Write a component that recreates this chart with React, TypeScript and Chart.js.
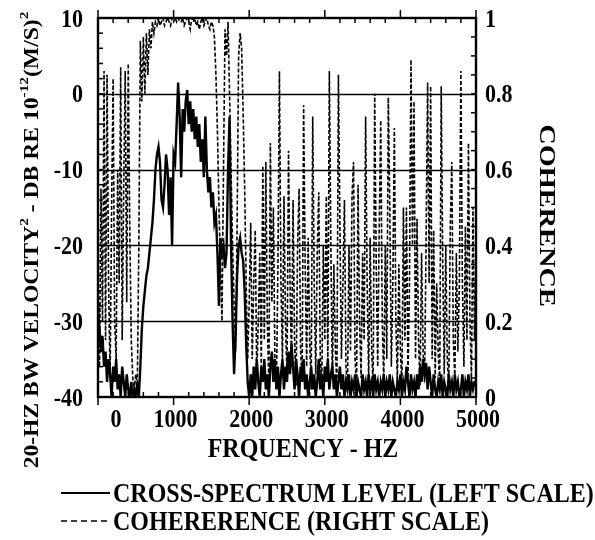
import { useEffect, useRef } from "react";
import { Chart, registerables } from "chart.js";

Chart.register(...registerables);

// ---------------- DATA ----------------
const FREQ_STEP_HZ = 20; // 20-Hz analysis bandwidth, 0..5000 Hz

// Cross-spectrum level, dB re 1e-12 (m/s)^2 (left scale); one row = 200 Hz
const CROSS_SPECTRUM_DB = [
  -28, -31, -34, -32, -36, -34, -38, -35, -37, -40,
  -36, -38, -35, -39, -37, -40, -36, -38, -40, -37,
  -39, -40, -38, -40, -39, -40, -38, -40, -36, -31,
  -28, -26, -24, -23, -21, -19, -17, -14, -10, -8,
  -7, -9, -14, -15, -12, -8, -10, -16, -11, -20,
  -8, -9, -4, 1.5, -3, -11, -2, -5, -1, 0.5,
  -4, -1, -5, -2, -6, -3, -7, -4, -9, -6,
  -11, -3, -10, -13, -11, -15, -13, -17, -16, -21,
  -28, -19, -21, -20, -23, -21, -10, -3, -20, -30,
  -37, -32, -24, -20, -19, -21, -22, -26, -33, -38,
  -40, -37, -40, -36, -39, -35, -38, -40, -36, -38,
  -35, -39, -37, -40, -36, -34, -38, -35, -39, -36,
  -40, -37, -35, -39, -36, -38, -34, -37, -33, -36,
  -39, -35, -37, -40, -36, -38, -35, -39, -37, -40,
  -38, -36, -39, -37, -40, -38, -35, -39, -37, -40,
  -36, -38, -35, -39, -37, -36, -39, -37, -40, -38,
  -36, -39, -37, -40, -38, -39, -37, -40, -38, -39,
  -37, -40, -38, -39, -40, -37, -39, -38, -40, -37,
  -39, -38, -40, -37, -39, -38, -40, -38, -39, -37,
  -40, -38, -39, -37, -40, -38, -39, -40, -38, -39,
  -37, -40, -38, -39, -36, -38, -40, -37, -39, -38,
  -40, -37, -39, -36, -38, -35, -37, -35.5, -39, -36,
  -38, -40, -37, -39, -40, -38, -39, -37, -40, -38,
  -39, -40, -37, -39, -38, -40, -37, -39, -38, -40,
  -39, -37, -40, -38, -39, -37, -40, -38, -39, -38,
  -38,
];

// Coherence (right scale); one row = 200 Hz
const COHERENCE = [
  0.30, 0.08, 0.55, 0.20, 0.86, 0.15, 0.85, 0.30, 0.05, 0.50,
  0.84, 0.20, 0.10, 0.60, 0.30, 0.87, 0.15, 0.55, 0.86, 0.25,
  0.88, 0.45, 0.15, 0.05, 0.02, 0.06, 0.03, 0.40, 0.94, 0.78,
  0.95, 0.80, 0.96, 0.85, 0.97, 0.92, 0.99, 0.96, 0.99, 0.98,
  1.00, 0.98, 0.99, 1.00, 0.98, 0.99, 1.00, 0.99, 0.98, 1.00,
  0.99, 1.00, 0.99, 1.00, 0.99, 0.99, 1.00, 0.98, 0.99, 1.00,
  0.99, 0.97, 1.00, 0.99, 1.00, 0.98, 0.99, 0.97, 0.99, 1.00,
  0.98, 0.99, 1.00, 0.98, 0.97, 0.99, 0.98, 0.95, 0.85, 0.70,
  0.50, 0.35, 0.20, 0.60, 0.97, 0.90, 0.99, 0.80, 0.60, 0.40,
  0.25, 0.12, 0.45, 0.90, 0.96, 0.92, 0.75, 0.55, 0.30, 0.10,
  0.25, 0.46, 0.10, 0.30, 0.44, 0.05, 0.20, 0.38, 0.08, 0.61,
  0.15, 0.62, 0.20, 0.03, 0.67, 0.25, 0.50, 0.10, 0.02, 0.35,
  0.86, 0.30, 0.10, 0.53, 0.20, 0.05, 0.65, 0.30, 0.08, 0.52,
  0.15, 0.03, 0.40, 0.55, 0.12, 0.04, 0.77, 0.35, 0.08, 0.42,
  0.15, 0.02, 0.74, 0.30, 0.06, 0.38, 0.54, 0.10, 0.03, 0.40,
  0.15, 0.53, 0.08, 0.86, 0.40, 0.05, 0.35, 0.12, 0.03, 0.85,
  0.45, 0.10, 0.30, 0.52, 0.08, 0.02, 0.40, 0.12, 0.53, 0.62,
  0.10, 0.03, 0.56, 0.20, 0.05, 0.38, 0.15, 0.74, 0.30, 0.05,
  0.42, 0.12, 0.03, 0.80, 0.35, 0.08, 0.45, 0.73, 0.20, 0.04,
  0.40, 0.10, 0.79, 0.50, 0.08, 0.30, 0.71, 0.20, 0.04, 0.35,
  0.12, 0.03, 0.50, 0.15, 0.50, 0.05, 0.30, 0.89, 0.40, 0.78,
  0.10, 0.47, 0.15, 0.03, 0.38, 0.12, 0.04, 0.42, 0.83, 0.30,
  0.82, 0.10, 0.44, 0.05, 0.30, 0.12, 0.03, 0.82, 0.35, 0.06,
  0.40, 0.10, 0.03, 0.45, 0.62, 0.15, 0.05, 0.38, 0.12, 0.30,
  0.86, 0.30, 0.08, 0.45, 0.15, 0.67, 0.20, 0.05, 0.50, 0.15,
  0.35,
];

const FREQUENCIES = CROSS_SPECTRUM_DB.map((_, i) => i * FREQ_STEP_HZ);

const X_TICKS = [0, 1000, 2000, 3000, 4000, 5000];
const X_MINOR_STEP = 200;
const LEFT_TICKS = [10, 0, -10, -20, -30, -40];
const LEFT_GRID = [0, -10, -20, -30];
const LEFT_MINOR_STEP = 2;
const RIGHT_TICKS = [1, 0.8, 0.6, 0.4, 0.2, 0];
const RIGHT_MINOR_STEP = 0.05;

const X_TITLE = "FRQUENCY - HZ";
const RIGHT_TITLE = "COHERENCE";
const LEFT_TITLE_PARTS = [
  { text: "20-HZ BW VELOCITY", sup: false },
  { text: "2", sup: true },
  { text: " - DB RE 10", sup: false },
  { text: "-12", sup: true },
  { text: "(M/S)", sup: false },
  { text: "2", sup: true },
];
const LEGEND_SOLID = "CROSS-SPECTRUM LEVEL (LEFT SCALE)";
const LEGEND_DASHED = "COHERERENCE (RIGHT SCALE)";

// ---------------- STYLE ----------------
const FONT_FAMILY = '"Liberation Serif", "Times New Roman", serif';
const SY = 1.18; // vertical stretch of glyphs in the original scan
const font = (size: number) => `bold ${size}px ${FONT_FAMILY}`;

function hText(ctx: CanvasRenderingContext2D, text: string, x: number, cy: number, align: CanvasTextAlign, size: number) {
  ctx.save();
  ctx.font = font(size);
  ctx.textAlign = align;
  ctx.textBaseline = "alphabetic";
  ctx.translate(x, cy + 0.33 * size * SY);
  ctx.scale(1, SY);
  ctx.fillStyle = "#000";
  ctx.fillText(text, 0, 0);
  ctx.restore();
}

const decorPlugin = {
  id: "decor",
  beforeDatasetsDraw(chart: any) {
    const { ctx, chartArea: a, scales } = chart;
    const y = scales.y;
    ctx.save();
    ctx.strokeStyle = "#000";
    ctx.lineWidth = 1.5;
    LEFT_GRID.forEach((v) => {
      const py = Math.round(y.getPixelForValue(v)) + 0.5;
      ctx.beginPath();
      ctx.moveTo(a.left, py);
      ctx.lineTo(a.right, py);
      ctx.stroke();
    });
    ctx.restore();
  },
  afterDatasetsDraw(chart: any) {
    const { ctx, chartArea: a, scales } = chart;
    const x = scales.x, y = scales.y, y1 = scales.y1;
    ctx.save();
    ctx.strokeStyle = "#000";
    // frame
    ctx.lineWidth = 2.4;
    ctx.strokeRect(a.left, a.top, a.right - a.left, a.bottom - a.top);
    // x ticks
    ctx.lineWidth = 1.5;
    for (let v = 0; v <= 5000; v += X_MINOR_STEP) {
      const px = x.getPixelForValue(v);
      const major = v % 1000 === 0;
      ctx.beginPath();
      if (major) {
        ctx.moveTo(px, a.top); ctx.lineTo(px, a.top - 8);
        ctx.moveTo(px, a.bottom); ctx.lineTo(px, a.bottom + 8);
      } else {
        ctx.moveTo(px, a.top); ctx.lineTo(px, a.top + 5);
        ctx.moveTo(px, a.bottom); ctx.lineTo(px, a.bottom - 5);
      }
      ctx.stroke();
    }
    // left minor ticks
    for (let v = -40; v <= 10; v += LEFT_MINOR_STEP) {
      const py = y.getPixelForValue(v);
      ctx.beginPath();
      ctx.moveTo(a.left, py); ctx.lineTo(a.left + 5, py);
      ctx.stroke();
    }
    // right minor ticks
    for (let k = 0; k <= 20; k++) {
      const py = y1.getPixelForValue(k * RIGHT_MINOR_STEP);
      ctx.beginPath();
      ctx.moveTo(a.right, py); ctx.lineTo(a.right - 5, py);
      ctx.stroke();
    }
    ctx.restore();

    // tick labels
    LEFT_TICKS.forEach((v) => hText(ctx, String(v), a.left - 15, y.getPixelForValue(v), "right", 22));
    RIGHT_TICKS.forEach((v) => hText(ctx, String(v), a.right + 9, y1.getPixelForValue(v), "left", 22));
    X_TICKS.forEach((v) => {
      const px = x.getPixelForValue(v) + (v === 0 ? 18 : 2);
      hText(ctx, String(v), px, a.bottom + 21, "center", 22);
    });

    // x title
    hText(ctx, X_TITLE, (a.left + a.right) / 2 + 16, a.bottom + 51, "center", 24);

    // right title (rotated clockwise)
    ctx.save();
    ctx.font = font(24);
    ctx.textAlign = "center";
    ctx.textBaseline = "alphabetic";
    ctx.translate(a.right + 64, (a.top + a.bottom) / 2 + 8);
    ctx.rotate(Math.PI / 2);
    ctx.scale(SY, 1);
    ctx.fillStyle = "#000";
    ctx.fillText(RIGHT_TITLE, 0, 0);
    ctx.restore();

    // left title (rotated counter-clockwise, with superscripts)
    ctx.save();
    const size = 20, supSize = 13;
    ctx.translate(38, 240);
    ctx.rotate(-Math.PI / 2);
    ctx.scale(SY, 1);
    ctx.textAlign = "left";
    ctx.textBaseline = "alphabetic";
    ctx.fillStyle = "#000";
    const widths = LEFT_TITLE_PARTS.map((p) => {
      ctx.font = font(p.sup ? supSize : size);
      return ctx.measureText(p.text).width;
    });
    const total = widths.reduce((s, w) => s + w, 0);
    let cx = -total / 2;
    LEFT_TITLE_PARTS.forEach((p, i) => {
      ctx.font = font(p.sup ? supSize : size);
      ctx.fillText(p.text, cx, p.sup ? -size * 0.48 : 0);
      cx += widths[i];
    });
    ctx.restore();

    // legend
    const l1 = 493, l2 = 521;
    ctx.save();
    ctx.strokeStyle = "#000";
    ctx.lineWidth = 2.2;
    ctx.beginPath(); ctx.moveTo(61, l1); ctx.lineTo(110, l1); ctx.stroke();
    ctx.lineWidth = 1.4;
    ctx.setLineDash([6, 4]);
    ctx.beginPath(); ctx.moveTo(61, l2); ctx.lineTo(110, l2); ctx.stroke();
    ctx.restore();
    hText(ctx, LEGEND_SOLID, 113, l1, "left", 24);
    hText(ctx, LEGEND_DASHED, 113, l2, "left", 24);
  },
};

export default function App() {
  const ref = useRef<HTMLCanvasElement | null>(null);
  useEffect(() => {
    document.body.style.margin = "0";
    const canvas = ref.current;
    if (!canvas) return;
    const chart = new Chart(canvas, {
      type: "line",
      data: {
        datasets: [
          {
            label: "Cross-spectrum level",
            data: CROSS_SPECTRUM_DB.map((v, i) => ({ x: FREQUENCIES[i], y: v })),
            yAxisID: "y",
            borderColor: "#000",
            borderWidth: 2.4,
            pointRadius: 0,
            tension: 0,
          },
          {
            label: "Coherence",
            data: COHERENCE.map((v, i) => ({ x: FREQUENCIES[i], y: v })),
            yAxisID: "y1",
            borderColor: "#000",
            borderWidth: 1.6,
            borderDash: [4, 2],
            pointRadius: 0,
            tension: 0,
          },
        ],
      },
      options: {
        animation: false,
        responsive: true,
        maintainAspectRatio: false,
        layout: { padding: { left: 98, right: 119, top: 18, bottom: 143 } },
        plugins: { legend: { display: false }, tooltip: { enabled: false } },
        scales: {
          x: { type: "linear", min: 0, max: 5000, display: false },
          y: { type: "linear", min: -40, max: 10, display: false },
          y1: { type: "linear", min: 0, max: 1, display: false },
        },
      },
      plugins: [decorPlugin],
    });
    return () => chart.destroy();
  }, []);
  return (
    <div style={{ position: "relative", width: 595, height: 540, background: "#fff" }}>
      <canvas ref={ref} />
    </div>
  );
}
